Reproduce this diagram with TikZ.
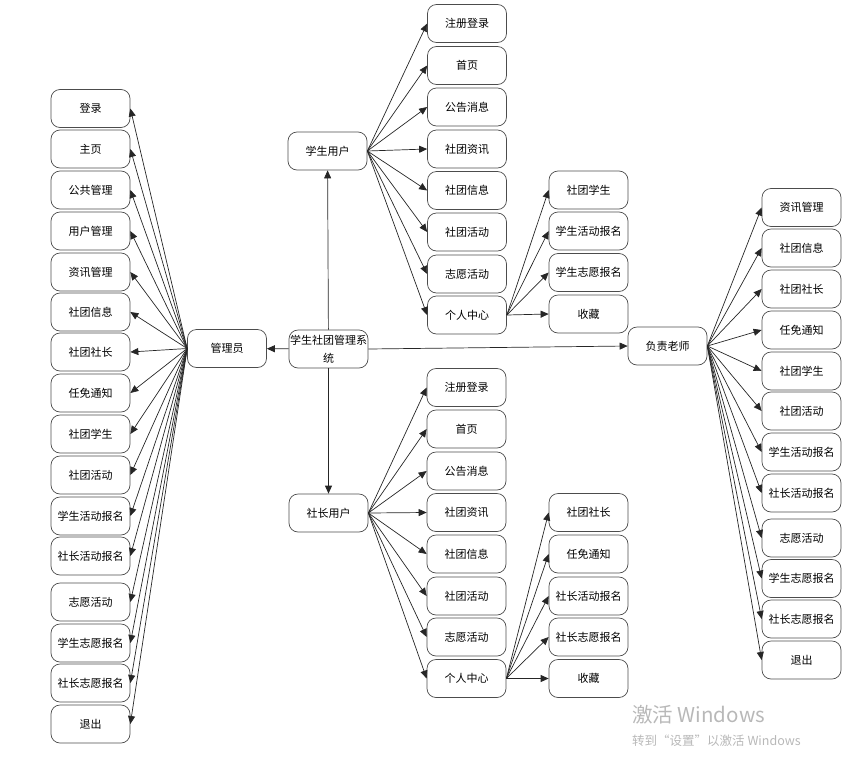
\documentclass[tikz,border=0pt]{standalone}
\usepackage{fontspec}
\newfontfamily\cjk{Noto Sans CJK SC}
\usetikzlibrary{arrows.meta}
\tikzset{
  box/.style={draw=black!70, line width=0.7pt, rounded corners=9pt, minimum width=79pt, minimum height=38pt, inner sep=0pt, align=center, font=\cjk\fontsize{11}{13}\selectfont},
  arr/.style={-{Triangle[length=8pt,width=7pt]}, draw=black!85, line width=0.7pt},
  wm/.style={anchor=west, text=black!28, inner sep=0pt}
}
\begin{document}
\begin{tikzpicture}[x=1pt,y=-1pt]
\useasboundingbox (0,0) rectangle (849,758);
% central nodes
\node[box] (sys) at (328.5,349) {学生社团管理系\\[5pt]统};
\node[box] (adm) at (227,348.5) {管理员};
\node[box] (stu) at (327.5,151) {学生用户};
\node[box] (lead) at (328.5,513) {社长用户};
\node[box] (tea) at (667.5,346) {负责老师};
\draw[arr] (sys) -- (adm);
\draw[arr] (sys) -- (stu);
\draw[arr] (sys) -- (lead);
\draw[arr] (sys.east) -- (tea.west);
% admin children
\foreach \n/\y/\t in {a1/108.5/登录, a2/149/主页, a3/190/公共管理, a4/231/用户管理, a5/272/资讯管理, a6/312/社团信息, a7/352/社团社长, a8/393/任免通知, a9/434/社团学生, a10/475/社团活动, a11/516/学生活动报名, a12/556/社长活动报名, a13/602/志愿活动, a14/643/学生志愿报名, a15/683/社长志愿报名, a16/724/退出}{
  \node[box] (\n) at (90.5,\y) {\t};
  \draw[arr] (adm.west) -- (\n.east);
}
% student children
\foreach \n/\y/\t in {s1/23.5/注册登录, s2/65.5/首页, s3/107/公告消息, s4/149/社团资讯, s5/190.5/社团信息, s6/232/社团活动, s7/274/志愿活动, s8/315/个人中心}{
  \node[box] (\n) at (467,\y) {\t};
  \draw[arr] (stu.east) -- (\n.west);
}
\foreach \n/\y/\t in {sp1/190/社团学生, sp2/231/学生活动报名, sp3/272.5/学生志愿报名, sp4/314/收藏}{
  \node[box] (\n) at (588.5,\y) {\t};
  \draw[arr] (s8.east) -- (\n.west);
}
% leader children
\foreach \n/\y/\t in {l1/387.5/注册登录, l2/429/首页, l3/471/公告消息, l4/512.5/社团资讯, l5/554/社团信息, l6/596/社团活动, l7/637/志愿活动, l8/678.5/个人中心}{
  \node[box] (\n) at (466.5,\y) {\t};
  \draw[arr] (lead.east) -- (\n.west);
}
\foreach \n/\y/\t in {lp1/512.5/社团社长, lp2/554/任免通知, lp3/596/社长活动报名, lp4/637/社长志愿报名, lp5/678.5/收藏}{
  \node[box] (\n) at (588.5,\y) {\t};
  \draw[arr] (l8.east) -- (\n.west);
}
% teacher children
\foreach \n/\y/\t in {t1/207.5/资讯管理, t2/248/社团信息, t3/289/社团社长, t4/330/任免通知, t5/371/社团学生, t6/411/社团活动, t7/452/学生活动报名, t8/493/社长活动报名, t9/538/志愿活动, t10/578.5/学生志愿报名, t11/619/社长志愿报名, t12/660/退出}{
  \node[box] (\n) at (801.5,\y) {\t};
  \draw[arr] (tea.east) -- (\n.west);
}
% watermark
\node[wm, font=\cjk\fontsize{20.5}{22}\selectfont] (wm1) at (632,715) {激活 Windows};
\node[wm, font=\cjk\fontsize{12.5}{14}\selectfont] (wm2) at (632,741) {转到“设置”以激活 Windows};
\end{tikzpicture}
\end{document}
